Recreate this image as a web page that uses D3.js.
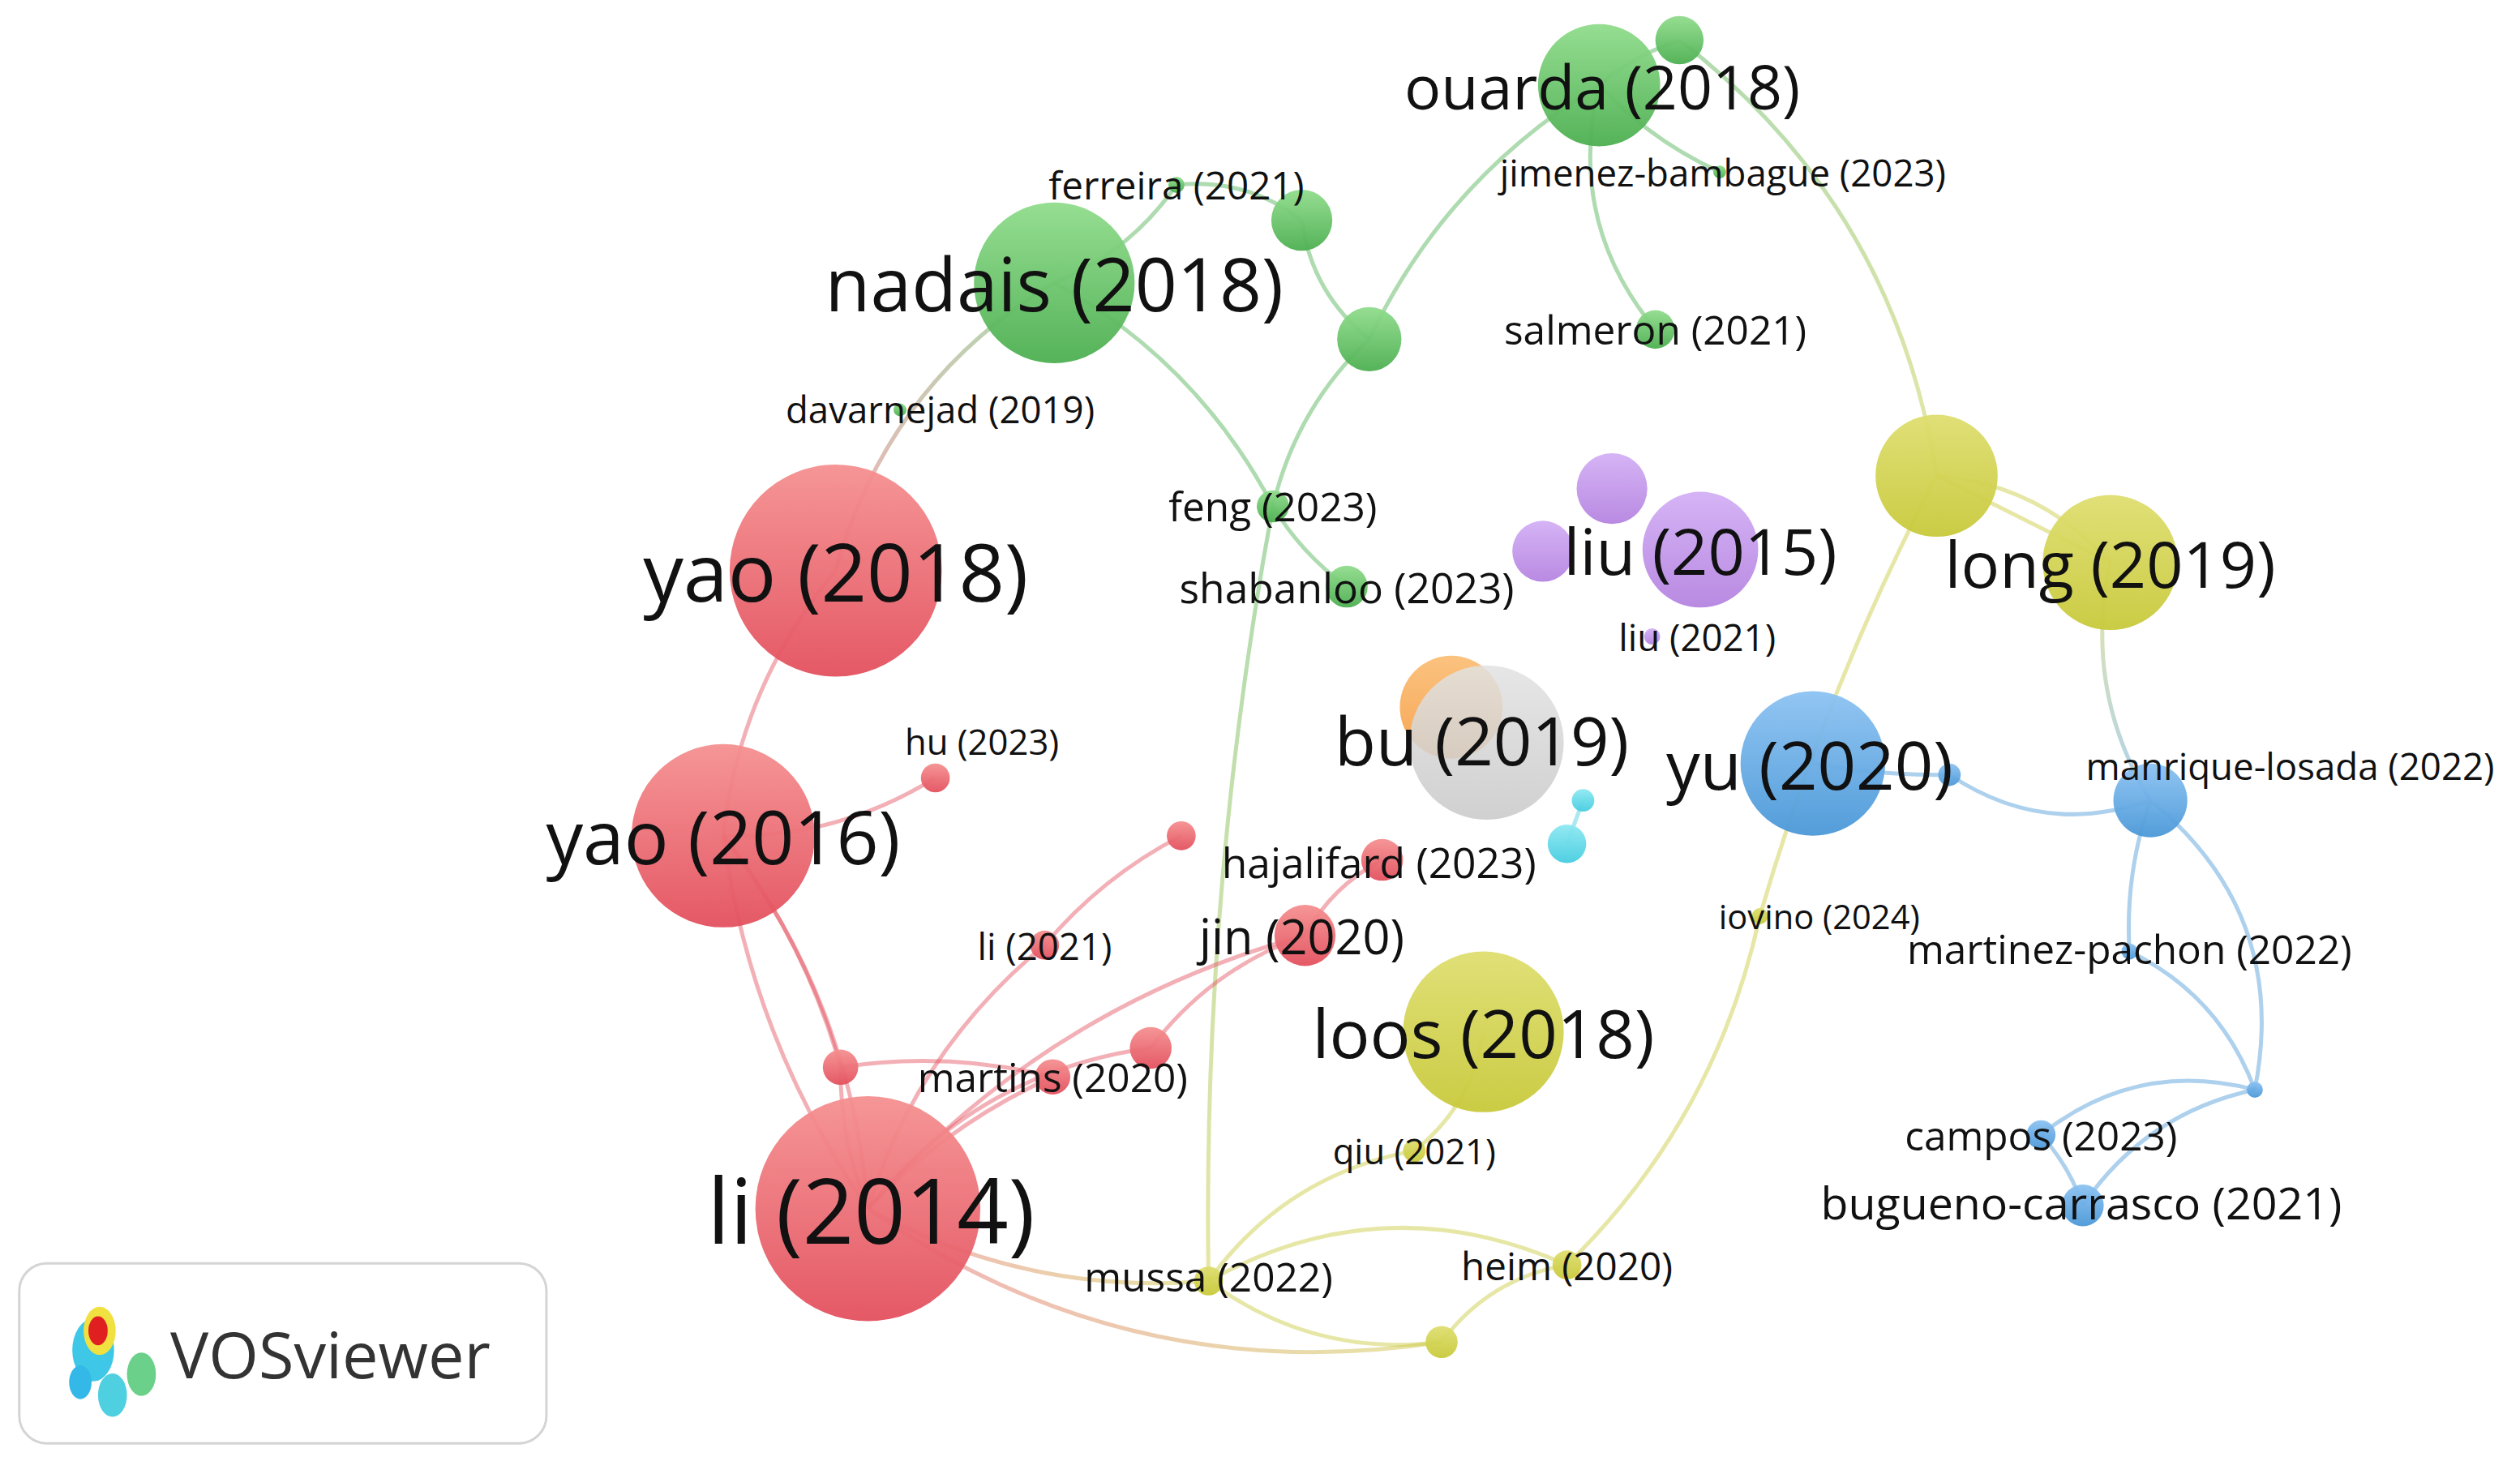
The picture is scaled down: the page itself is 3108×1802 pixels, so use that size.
<!DOCTYPE html>
<html><head><meta charset="utf-8">
<script src="https://cdn.jsdelivr.net/npm/d3@7"></script>
<style>body{margin:0;background:#fff}svg{display:block}text{font-family:"Open Sans",sans-serif}</style>
</head><body>
<script>
// node layout (VOSviewer map coordinates), size, cluster, label, label font size
const nodeIds   = ["ouarda","g1","ferreira","g2","nadais","g3","salmeron","jimenez","davarnejad","feng","shabanloo",
 "yao18","yao16","hu","r1","hajalifard","li21","jin","r2","r3","martins","li14",
 "y1","long","loos","iovino","qiu","mussa","heim","y2",
 "p1","p2","liu15","liu21","bu_o","bu","c1","c2",
 "yu","b1","manrique","martinez","b2","campos","bugueno"];
const nodeX = [995,1045,732,810,656,852,1030,1070,560,792,838, 520,450,582,735,860,650,812,716,523,655,540, 1205,1313,923,1095,880,752,975,897, 1003,960,1058,1028,903,925,985,975, 1128,1213,1338,1325,1403,1270,1296];
const nodeY = [53,25,115,137,176,211,205,107,255,315,365, 355,520,484,520,535,588,582,652,664,670,752, 296,350,642,570,716,797,787,835, 304,343,342,396,440,462,498,525, 475,482,498,592,678,706,750];
const nodeR = [38,15,5,19,50,20,12,4,4,10,13, 66,57,9,9,13,9,19,13,11,11,70, 38,42,50,5,7,9,9,10, 22,19,36,5,32,48,7,12, 45,7,23,5,5,9,13];
const nodeCluster = ["g","g","g","g","g","g","g","g","g","g","g", "r","r","r","r","r","r","r","r","r","r","r", "y","y","y","y","y","y","y","y", "p","p","p","p","o","k","c","c", "b","b","b","b","b","b","b"];
const nodeLabel = ["ouarda (2018)","","ferreira (2021)","","nadais (2018)","","salmeron (2021)","jimenez-bambague (2023)","davarnejad (2019)","feng (2023)","shabanloo (2023)",
 "yao (2018)","yao (2016)","hu (2023)","","hajalifard (2023)","li (2021)","jin (2020)","","","martins (2020)","li (2014)",
 "","long (2019)","loos (2018)","iovino (2024)","qiu (2021)","mussa (2022)","heim (2020)","",
 "","","liu (2015)","liu (2021)","","bu (2019)","","",
 "yu (2020)","","manrique-losada (2022)","martinez-pachon (2022)","","campos (2023)","bugueno-carrasco (2021)"];
const labelSize = [38,0,24,0,46,0,25,23,23,25,26, 50,46,22,0,26,23,30,0,0,25,56, 0,40,42,21,22,25,24,0, 0,0,40,23,0,42,0,0, 42,0,23,25,0,25,28];
const labelDX = [2,0,0,0,0,0,0,2,25,0,0, 0,0,29,0,-2,0,-2,0,0,0,2, 0,0,0,37,0,0,0,0, 0,0,0,28,0,-3,0,0, -2,0,87,0,0,0,-1];
const labelDY = [0,0,0,0,0,0,0,0,-1,0,0, 0,0,-23,0,1,0,0,0,0,0,0, 0,0,0,0,0,-3,0,0, 0,0,0,0,0,-2,0,0, 0,0,-22,-2,0,0,-2];
// links: source, target, bend
const links = [
 ["nadais","ferreira",0.15],["ferreira","g2",-0.2],["g2","g3",0.2],["nadais","feng",-0.15],["feng","shabanloo",0.1],
 ["g3","feng",0.15],["g3","ouarda",-0.15],["ouarda","salmeron",0.25],["ouarda","jimenez",0.1],["g1","ouarda",0.1],
 ["g1","y1",-0.2],["nadais","yao18",0.2],["feng","mussa",0.05],
 ["y1","long",-0.2],["y1","iovino",0.05],["iovino","heim",-0.15],["long","manrique",0.2],
 ["loos","qiu",-0.2],["qiu","mussa",0.2],["mussa","heim",-0.25],["mussa","y2",0.2],["heim","y2",0.2],["li14","mussa",0.15],["li14","y2",0.2],
 ["yao18","yao16",0.15],["yao16","hu",0.15],["yao16","li14",0.12],["yao16","li14",-0.15],["yao16","r3",-0.1],["r3","li14",0.1],
 ["li14","li21",-0.15],["li21","r1",-0.1],["li14","r2",-0.2],["r2","jin",-0.15],["jin","hajalifard",-0.15],["li14","martins",-0.1],["r3","martins",-0.1],["li14","jin",-0.15],
 ["yu","b1",0.05],["b1","manrique",0.25],["manrique","martinez",0.1],["martinez","b2",-0.2],["manrique","b2",-0.3],
 ["b2","campos",0.25],["b2","bugueno",0.2],["campos","bugueno",-0.1],["c1","c2",0],["y1","long",0.0]
];
const colors = {g:"#4caf50",r:"#e3505e",y:"#c8c93a",p:"#b583e0",o:"#f5a04a",k:"#c8c8c8",c:"#45cde0",b:"#4a98d8"};
const lightColors = {g:"#90dc8c",r:"#f59090",y:"#dede70",p:"#d3b0f5",o:"#fbbf78",k:"#e2e2e2",c:"#8ee8f2",b:"#8cc2f2"};

const W=3108,H=1802, S=3108/1568;
const x=d3.scaleLinear().domain([0,1568]).range([0,W]);
const y=d3.scaleLinear().domain([0,909]).range([0,H]);
const nodes=nodeIds.map((id,i)=>({id,x:x(nodeX[i]),y:y(nodeY[i]),r:nodeR[i]*S,c:nodeCluster[i],label:nodeLabel[i],fs:labelSize[i]*S,dx:labelDX[i]*S,dy:labelDY[i]*S}));
const byId=Object.fromEntries(nodes.map(n=>[n.id,n]));
const svg=d3.select("body").append("svg").attr("width",W).attr("height",H);
const defs=svg.append("defs");
Object.keys(colors).forEach(k=>{
  const g=defs.append("linearGradient").attr("id","grad_"+k).attr("x1",0).attr("y1",0).attr("x2",0).attr("y2",1);
  g.append("stop").attr("offset","0%").attr("stop-color",lightColors[k]);
  g.append("stop").attr("offset","100%").attr("stop-color",colors[k]);
});
links.forEach(([s,t,b],i)=>{
  const a=byId[s],c=byId[t];
  const mx=(a.x+c.x)/2,my=(a.y+c.y)/2,dx=c.x-a.x,dy=c.y-a.y;
  const cx=mx-dy*b,cy=my+dx*b;
  const gid="lg"+i;
  const g=defs.append("linearGradient").attr("id",gid).attr("gradientUnits","userSpaceOnUse")
   .attr("x1",a.x).attr("y1",a.y).attr("x2",c.x).attr("y2",c.y);
  g.append("stop").attr("offset","0%").attr("stop-color",colors[a.c]);
  g.append("stop").attr("offset","100%").attr("stop-color",colors[c.c]);
  svg.append("path").attr("d",`M${a.x},${a.y}Q${cx},${cy} ${c.x},${c.y}`)
   .attr("fill","none").attr("stroke",`url(#${gid})`).attr("stroke-opacity",0.45).attr("stroke-width",5);
});
svg.append("g").selectAll("circle").data(nodes).join("circle")
 .attr("cx",d=>d.x).attr("cy",d=>d.y).attr("r",d=>d.r)
 .attr("fill",d=>`url(#grad_${d.c})`).attr("fill-opacity",d=>d.c==="k"?0.85:0.95);
svg.append("g").selectAll("text").data(nodes.filter(d=>d.label)).join("text")
 .attr("x",d=>d.x+d.dx).attr("y",d=>d.y+d.dy).attr("text-anchor","middle").attr("dominant-baseline","central")
 .attr("font-size",d=>d.fs).attr("fill","#111").text(d=>d.label);
// logo box
const lg=svg.append("g");
lg.append("rect").attr("x",x(12)).attr("y",y(786)).attr("width",x(328)).attr("height",y(112)).attr("rx",34)
 .attr("fill","#fff").attr("stroke","#d4d4d4").attr("stroke-width",3);
const blobs=[[58,840,13,"#3ec7e6"],[70,868,9,"#4fd0e0"],[88,855,9,"#6ad08a"],[62,828,10,"#f0e040"],[61,828,6,"#e02020"],[50,860,7,"#33b8e8"]];
blobs.forEach(b=>lg.append("ellipse").attr("cx",x(b[0])).attr("cy",y(b[1])).attr("rx",b[2]*S).attr("ry",b[2]*S*1.5).attr("fill",b[3]));
lg.append("text").attr("x",x(106)).attr("y",y(842)).attr("dominant-baseline","central").attr("font-size",40*S).attr("fill","#333").text("VOSviewer");
</script>
</body></html>
